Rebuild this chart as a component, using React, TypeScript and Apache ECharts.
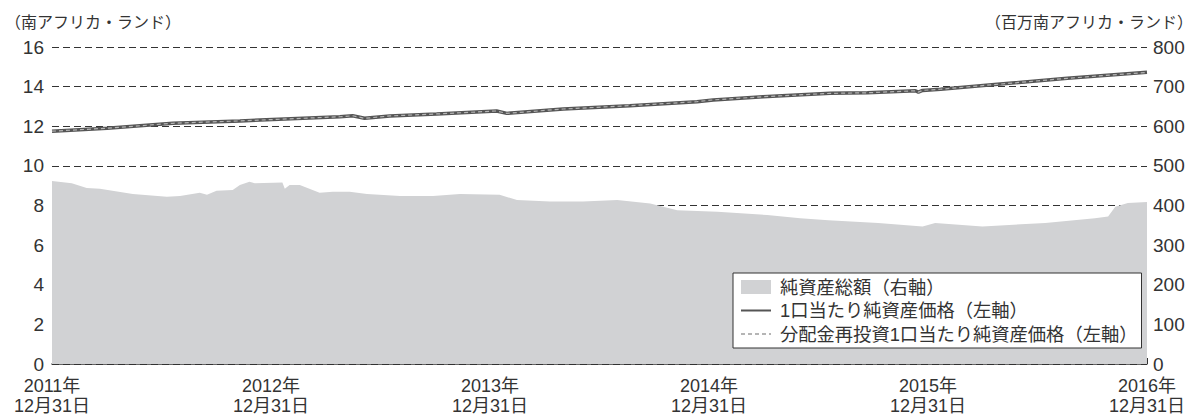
import React, { useEffect, useRef } from "react";
import * as echarts from "echarts";

// 純資産総額（百万南アフリカ・ランド, right axis)
const assetDates = [
  "2011-12-31", "2012-02-02", "2012-02-27", "2012-03-20", "2012-05-14", "2012-07-10",
  "2012-08-01", "2012-09-03", "2012-09-15", "2012-10-01", "2012-10-28", "2012-11-09",
  "2012-11-25", "2012-12-04", "2013-01-19", "2013-01-23", "2013-01-31", "2013-02-17",
  "2013-03-22", "2013-04-13", "2013-05-11", "2013-06-09", "2013-08-03", "2013-09-27",
  "2013-11-11", "2014-01-16", "2014-02-14", "2014-04-10", "2014-06-04", "2014-07-31",
  "2014-09-24", "2014-11-08", "2015-01-14", "2015-04-07", "2015-06-01", "2015-07-18",
  "2015-10-09", "2015-12-22", "2016-01-12", "2016-03-31", "2016-07-14", "2016-10-05",
  "2016-10-27", "2016-11-08", "2016-11-29", "2016-12-31",
];
const assetValues = [
  462, 456, 444, 442, 429, 422,
  424, 432, 427, 437, 439, 452,
  460, 456, 458, 442, 452, 452,
  432, 435, 435, 429, 424, 424,
  429, 427, 414, 410, 410, 414,
  405, 388, 384, 376, 368, 363,
  356, 347, 356, 347, 356, 368,
  372, 397, 406, 409,
];

// 1口当たり純資産価格 / 分配金再投資1口当たり純資産価格 (南アフリカ・ランド, left axis)
const navDates = [
  "2011-12-31", "2012-04-01", "2012-07-20", "2012-11-09", "2013-04-25", "2013-05-16",
  "2013-06-05", "2013-07-17", "2013-10-03", "2014-01-11", "2014-01-28", "2014-05-02",
  "2014-08-21", "2014-12-11", "2015-01-07", "2015-03-31", "2015-07-21", "2015-09-21",
  "2015-12-10", "2015-12-15", "2015-12-22", "2016-01-21", "2016-04-30", "2016-08-20",
  "2016-12-31",
];
const navValues = [
  11.75, 11.9, 12.15, 12.27, 12.48, 12.53,
  12.4, 12.52, 12.62, 12.77, 12.65, 12.87,
  13.04, 13.24, 13.33, 13.49, 13.66, 13.69,
  13.79, 13.72, 13.81, 13.87, 14.13, 14.42,
  14.72,
];
const navReinvestedValues = [
  11.75, 11.9, 12.15, 12.27, 12.48, 12.53,
  12.4, 12.52, 12.62, 12.77, 12.65, 12.87,
  13.04, 13.24, 13.33, 13.49, 13.66, 13.69,
  13.79, 13.72, 13.81, 13.87, 14.13, 14.42,
  14.72,
];

const xTickYears = [2011, 2012, 2013, 2014, 2015, 2016];
const leftTicks = [0, 2, 4, 6, 8, 10, 12, 14, 16];
const rightTicks = [0, 100, 200, 300, 400, 500, 600, 700, 800];

const seriesNames = [
  "純資産総額（右軸）",
  "1口当たり純資産価格（左軸）",
  "分配金再投資1口当たり純資産価格（左軸）",
];
const leftUnit = "（南アフリカ・ランド）";
const rightUnit = "（百万南アフリカ・ランド）";

// Convert a date to years since 2011-12-31 (each Dec 31 maps to an integer)
function toYearPos(s: string): number {
  const [y, m, d] = s.split("-").map(Number);
  const start = Date.UTC(y - 1, 11, 31);
  const end = Date.UTC(y, 11, 31);
  const t = Date.UTC(y, m - 1, d);
  return y - 2012 + (t - start) / (end - start);
}

const FONT = "'Liberation Sans', 'Noto Sans CJK JP', sans-serif";
const TEXT = "#333333";
const AREA = "#d1d2d4";

export default function App() {
  const ref = useRef<HTMLDivElement>(null);
  useEffect(() => {
    document.body.style.margin = "0";
    if (!ref.current) return;
    const chart = echarts.init(ref.current, undefined, { renderer: "svg" });
    const assetData = assetDates.map((d, i) => [toYearPos(d), assetValues[i]]);
    const navData = navDates.map((d, i) => [toYearPos(d), navValues[i]]);
    const navReData = navDates.map((d, i) => [toYearPos(d), navReinvestedValues[i]]);
    const xMin = 0;
    const xMax = xTickYears.length - 1;

    chart.setOption({
      animation: false,
      textStyle: { fontFamily: FONT },
      grid: { left: 52, right: 48, top: 47, bottom: 52, containLabel: false },
      graphic: [
        {
          type: "text",
          x: 5,
          y: 22,
          style: { text: leftUnit, font: `16px ${FONT}`, fill: TEXT, textAlign: "left", textVerticalAlign: "middle" },
        },
        {
          type: "text",
          x: 1193,
          y: 22,
          style: { text: rightUnit, font: `16px ${FONT}`, fill: TEXT, textAlign: "right", textVerticalAlign: "middle" },
        },
      ],
      legend: {
        orient: "vertical",
        left: 733,
        top: 273,
        padding: [4, 4, 4, 7],
        itemGap: 3.5,
        itemWidth: 30,
        itemHeight: 14,
        backgroundColor: "#ffffff",
        borderColor: "#333333",
        borderWidth: 1,
        borderRadius: 0,
        selectedMode: false,
        textStyle: { fontSize: 18.3, color: TEXT, fontFamily: FONT, lineHeight: 20, padding: [0, 0, 0, 4] },
        data: [
          { name: seriesNames[0], icon: "rect", itemStyle: { color: AREA } },
          { name: seriesNames[1], itemStyle: { opacity: 0, color: "transparent", borderWidth: 0 } },
          { name: seriesNames[2], itemStyle: { opacity: 0, color: "transparent", borderWidth: 0 } },
        ],
      },
      xAxis: {
        type: "value",
        min: xMin,
        max: xMax,
        interval: 1,
        axisLine: { show: true, lineStyle: { color: "#333", width: 1.5 } },
        axisTick: { show: true, inside: true, length: 6, lineStyle: { color: "#333", width: 1 } },
        splitLine: { show: false },
        axisLabel: {
          margin: 12,
          fontSize: 18,
          lineHeight: 20,
          color: TEXT,
          fontFamily: FONT,
          showMinLabel: true,
          showMaxLabel: true,
          formatter: (v: number) => `${xTickYears[Math.round(v)]}年\n12月31日`,
        },
      },
      yAxis: [
        {
          type: "value",
          min: leftTicks[0],
          max: leftTicks[leftTicks.length - 1],
          interval: 2,
          position: "left",
          axisLine: { show: false },
          axisTick: { show: true, inside: true, length: 6, lineStyle: { color: "#333" } },
          axisLabel: { margin: 8, fontSize: 19, color: TEXT, fontFamily: FONT },
          splitLine: { show: true, lineStyle: { color: "#333", width: 1, type: [7, 4] } },
        },
        {
          type: "value",
          min: rightTicks[0],
          max: rightTicks[rightTicks.length - 1],
          interval: 100,
          position: "right",
          axisLine: { show: false },
          axisTick: { show: true, inside: true, length: 6, lineStyle: { color: "#333" } },
          axisLabel: { margin: 6, fontSize: 19, color: TEXT, fontFamily: FONT },
          splitLine: { show: false },
        },
      ],
      series: [
        {
          name: seriesNames[0],
          type: "line",
          yAxisIndex: 1,
          data: assetData,
          symbol: "none",
          lineStyle: { width: 0, color: AREA },
          itemStyle: { color: AREA },
          areaStyle: { color: AREA, opacity: 1 },
          z: 1,
        },
        {
          name: seriesNames[1],
          type: "line",
          yAxisIndex: 0,
          data: navData,
          symbol: "none",
          lineStyle: { width: 3.5, color: "#555555" },
          itemStyle: { color: "#555555" },
          z: 3,
        },
        {
          name: seriesNames[2],
          type: "line",
          yAxisIndex: 0,
          data: navReData,
          symbol: "none",
          lineStyle: { width: 1.2, color: "#b5b5b5", type: [4, 3] },
          itemStyle: { color: "#b5b5b5" },
          z: 4,
        },
      ],
    });
    return () => chart.dispose();
  }, []);
  return <div ref={ref} style={{ width: 1195, height: 416 }} />;
}
